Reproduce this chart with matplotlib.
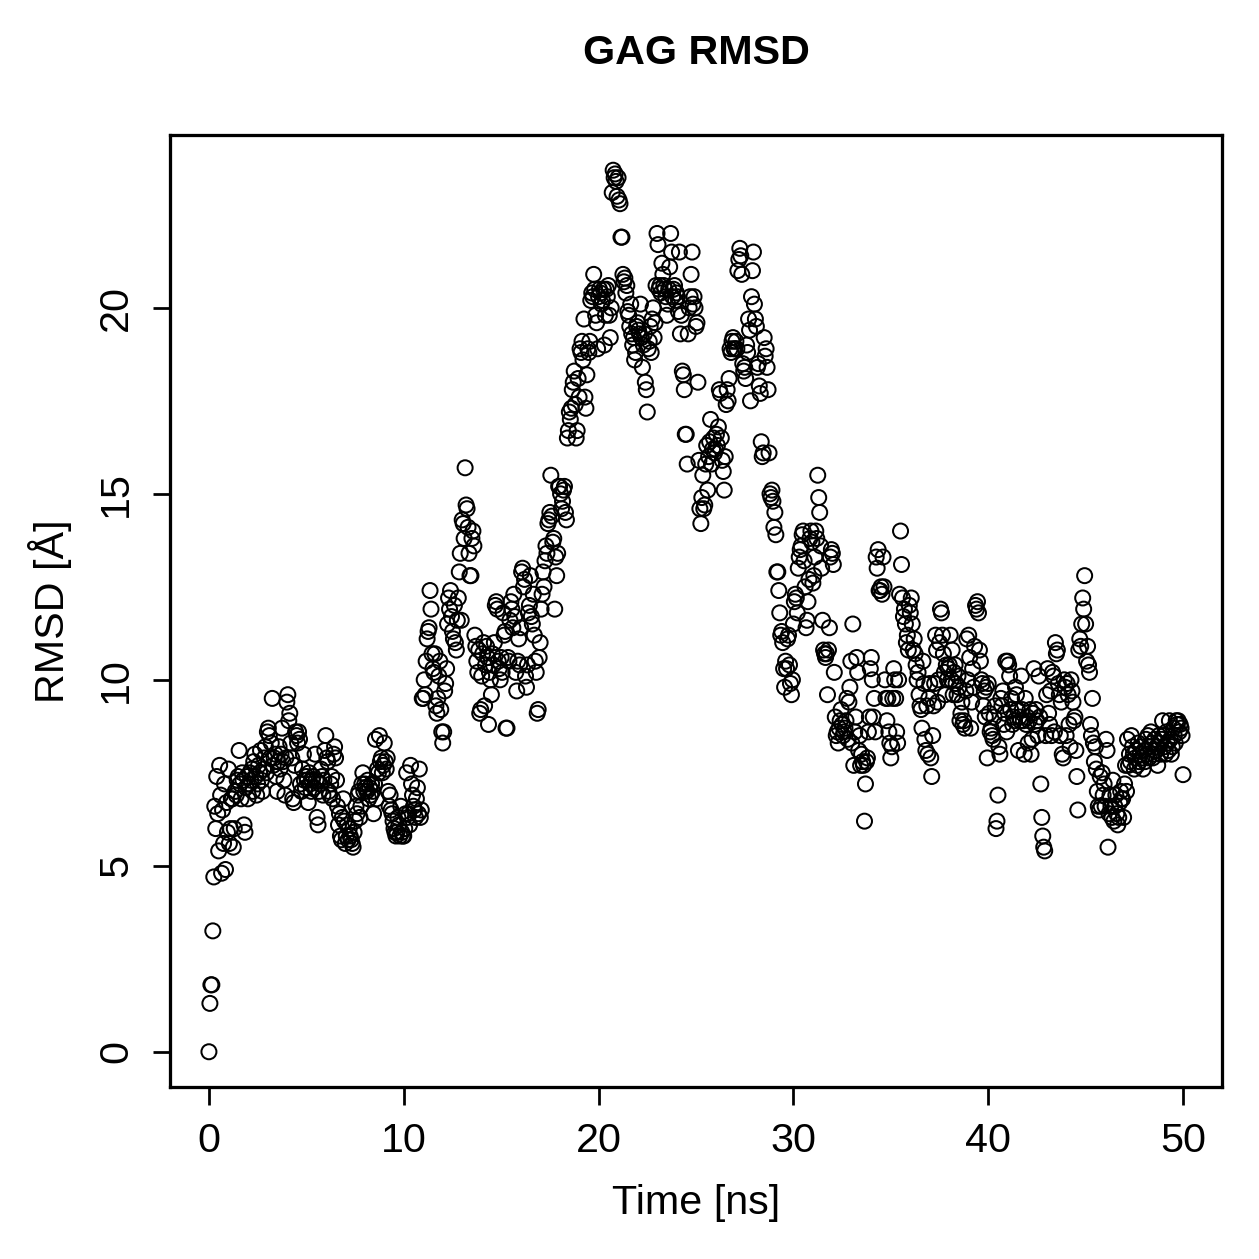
import numpy as np
import matplotlib
matplotlib.use("Agg")
import matplotlib.pyplot as plt

plt.rcParams['font.family'] = ['Liberation Sans', 'DejaVu Sans']

# RMSD values, one frame every 0.05 ns, one row per ns
rmsd = [
    0.0, 1.3, 1.8, 1.8, 3.25, 4.7, 6.6, 6.0, 7.4, 6.4, 5.4, 7.7, 6.9, 4.8, 6.5, 5.6, 7.2, 4.9, 6.7, 5.9,
    7.6, 5.6, 6.0, 6.8, 6.8, 5.5, 6.0, 7.0, 6.9, 7.3, 7.4, 8.1, 7.2, 6.8, 7.5, 7.3, 6.1, 5.9, 7.1, 7.4,
    6.8, 7.2, 7.5, 7.3, 7.6, 7.0, 7.8, 8.0, 7.4, 6.9, 7.2, 7.7, 7.5, 8.1, 7.3, 7.0, 7.6, 7.9, 8.2, 7.5,
    8.6, 8.7, 8.5, 7.9, 8.3, 9.5, 7.7, 7.9, 8.0, 7.4, 7.0, 7.8, 8.2, 7.6, 8.0, 8.7, 7.8, 7.3, 6.9, 7.9,
    9.4, 9.6, 8.9, 9.1, 8.3, 7.9, 6.8, 6.7, 7.7, 8.6, 8.5, 8.3, 8.6, 8.4, 7.2, 7.0, 7.6, 8.0, 7.3, 7.1,
    7.4, 7.3, 6.7, 7.5, 7.2, 7.0, 7.3, 7.4, 7.1, 8.0, 7.3, 6.3, 6.1, 7.0, 7.2, 7.6, 7.4, 6.9, 7.3, 8.1,
    8.5, 7.9, 7.8, 7.0, 6.9, 7.2, 7.4, 6.8, 8.0, 8.2, 7.9, 7.3, 6.6, 6.1, 6.4, 5.8, 5.7, 6.3, 6.8, 6.2,
    5.6, 5.8, 6.1, 5.7, 6.0, 5.8, 5.7, 5.6, 5.5, 5.9, 6.2, 6.6, 6.4, 6.9, 7.0, 6.3, 6.6, 7.2, 7.5, 7.0,
    7.2, 7.1, 7.0, 7.3, 6.8, 7.1, 6.9, 7.2, 7.0, 6.4, 7.2, 8.4, 6.8, 7.6, 7.5, 8.5, 7.8, 7.9, 7.5, 7.7,
    8.3, 7.8, 7.6, 7.9, 7.0, 6.6, 6.9, 6.5, 6.4, 6.2, 6.0, 5.9, 5.8, 5.9, 6.3, 6.1, 5.8, 6.6, 5.9, 5.8,
    5.8, 6.0, 6.4, 7.5, 6.3, 6.4, 6.1, 7.7, 7.2, 6.9, 6.6, 6.5, 6.3, 6.8, 7.1, 6.4, 7.6, 6.3, 6.5, 9.5,
    9.5, 10.0, 9.6, 10.5, 11.1, 11.3, 11.4, 12.4, 11.9, 10.7, 10.3, 10.2, 10.7, 9.3, 9.1, 9.5, 10.1, 10.5, 9.2, 8.6,
    8.3, 8.6, 9.7, 9.9, 10.3, 11.5, 12.2, 11.9, 12.4, 11.7, 11.3, 11.1, 12.0, 11.0, 10.8, 11.6, 12.2, 12.9, 13.4, 11.6,
    14.3, 14.2, 13.8, 15.7, 14.7, 14.6, 14.1, 13.4, 12.8, 12.8, 13.8, 14.0, 13.6, 11.2, 10.9, 10.5, 10.2, 10.8, 9.1, 9.2,
    10.1, 10.7, 11.0, 9.3, 10.4, 10.9, 10.6, 8.8, 10.2, 10.0, 9.6, 10.7, 10.4, 11.0, 12.0, 12.1, 11.9, 10.5, 10.3, 10.0,
    10.6, 10.2, 11.8, 11.2, 11.3, 8.7, 8.7, 10.6, 10.5, 11.6, 12.1, 11.9, 11.4, 12.3, 11.7, 10.2, 9.7, 10.5, 11.1, 10.4,
    11.4, 12.9, 13.0, 12.5, 12.7, 10.1, 9.8, 10.4, 11.8, 12.0, 12.8, 11.7, 11.5, 12.3, 11.2, 10.5, 10.2, 9.1, 9.2, 10.6,
    11.0, 11.9, 12.3, 12.9, 12.5, 13.2, 13.6, 13.4, 14.2, 14.3, 14.5, 15.5, 14.4, 13.7, 13.8, 11.9, 13.3, 12.8, 13.4, 15.2,
    15.2, 15.0, 14.6, 14.8, 15.1, 15.2, 14.5, 14.3, 16.5, 16.7, 17.2, 17.0, 17.3, 17.8, 18.0, 18.3, 17.4, 16.5, 16.7, 18.1,
    17.6, 18.9, 18.8, 19.1, 18.6, 19.7, 17.6, 17.3, 18.2, 18.9, 18.8, 19.1, 20.2, 20.4, 20.3, 20.9, 20.5, 19.8, 19.6, 18.9,
    20.3, 20.5, 20.4, 20.1, 20.2, 20.5, 19.0, 19.8, 20.5, 20.3, 20.6, 19.8, 19.2, 20.0, 23.1, 23.7, 23.5, 23.6, 23.4, 23.0,
    23.5, 22.9, 22.8, 21.9, 21.9, 20.9, 20.7, 20.8, 20.4, 20.6, 19.9, 19.8, 19.5, 20.1, 19.3, 19.0, 19.2, 18.6, 18.8, 19.5,
    19.6, 19.4, 19.3, 20.1, 19.2, 18.4, 19.0, 19.3, 18.0, 17.8, 17.2, 18.9, 19.1, 19.5, 18.8, 19.7, 20.0, 19.2, 19.6, 20.6,
    22.0, 21.7, 20.5, 20.6, 20.4, 21.2, 20.9, 20.6, 20.5, 20.3, 19.8, 20.1, 20.5, 21.1, 22.0, 21.5, 20.3, 20.5, 20.6, 20.2,
    20.4, 20.3, 19.9, 21.5, 19.3, 19.8, 18.3, 18.2, 17.8, 16.6, 16.6, 15.8, 19.3, 20.0, 20.3, 20.9, 21.5, 20.1, 20.3, 20.0,
    19.5, 19.6, 18.0, 15.9, 14.6, 14.2, 14.9, 15.5, 14.6, 14.7, 15.8, 16.3, 15.1, 16.0, 16.4, 17.0, 15.8, 16.2, 16.5, 16.1,
    16.2, 16.6, 16.3, 16.8, 17.8, 17.7, 16.5, 15.9, 15.6, 15.1, 16.0, 17.4, 17.8, 17.5, 18.1, 18.9, 18.8, 19.1, 19.2, 18.9,
    18.9, 19.1, 18.9, 21.0, 21.3, 21.6, 21.4, 20.9, 18.5, 18.3, 18.4, 18.1, 19.0, 18.8, 19.7, 19.4, 17.5, 20.3, 21.0, 21.5,
    20.1, 19.7, 19.5, 18.4, 18.5, 17.9, 17.7, 16.4, 16.0, 16.1, 19.2, 18.7, 18.9, 18.4, 17.8, 16.1, 15.0, 14.9, 15.1, 14.8,
    14.1, 14.5, 13.9, 12.9, 12.9, 12.4, 11.8, 11.2, 11.3, 11.0, 10.3, 9.8, 10.5, 10.3, 11.1, 11.2, 10.4, 9.9, 9.6, 10.0,
    11.5, 12.1, 12.3, 12.2, 11.8, 13.0, 13.3, 13.5, 13.6, 13.9, 14.0, 13.2, 12.5, 11.4, 11.6, 12.1, 12.7, 13.8, 14.0, 13.7,
    12.6, 12.8, 13.3, 14.0, 13.8, 15.5, 14.9, 14.5, 13.6, 13.0, 11.6, 10.8, 10.7, 10.6, 10.7, 9.6, 10.8, 11.4, 13.3, 13.5,
    13.4, 13.1, 10.2, 9.0, 8.5, 8.6, 8.3, 8.7, 8.9, 9.2, 8.8, 8.5, 8.6, 8.7, 8.9, 9.5, 8.4, 9.4, 9.8, 10.5,
    8.3, 11.5, 7.7, 8.6, 9.0, 10.6, 10.2, 8.1, 8.5, 7.7, 8.0, 7.8, 7.7, 6.2, 7.2, 7.8, 7.9, 8.6, 9.0, 10.3,
    10.6, 10.0, 9.0, 9.5, 8.6, 13.3, 13.0, 13.5, 12.4, 12.4, 12.5, 12.3, 13.3, 12.5, 10.0, 9.5, 8.9, 9.5, 8.6, 8.3,
    7.9, 8.2, 9.5, 10.3, 10.0, 9.5, 8.6, 8.3, 10.0, 12.3, 14.0, 13.1, 12.2, 11.7, 11.9, 11.5, 11.0, 11.2, 10.8, 12.0,
    11.8, 12.2, 11.5, 10.8, 11.1, 10.7, 10.4, 10.0, 10.2, 9.6, 9.3, 9.2, 8.7, 10.5, 9.9, 8.4, 8.1, 9.3, 8.0, 9.5,
    9.9, 7.9, 7.4, 8.5, 9.3, 9.9, 11.2, 10.8, 9.4, 10.0, 11.0, 11.9, 11.8, 11.2, 10.7, 10.2, 9.6, 10.4, 10.0, 10.3,
    10.4, 11.2, 10.0, 10.8, 9.6, 10.2, 10.4, 9.9, 9.6, 10.1, 9.8, 8.9, 9.1, 9.4, 8.8, 8.9, 8.7, 9.7, 11.1, 10.0,
    11.2, 10.6, 8.7, 9.4, 10.3, 9.8, 10.9, 12.0, 11.9, 12.1, 11.8, 10.8, 10.5, 10.0, 9.9, 9.3, 9.7, 9.0, 9.8, 7.9,
    9.9, 9.1, 8.6, 8.7, 8.5, 8.4, 9.0, 9.3, 6.0, 6.2, 6.9, 8.2, 8.0, 9.5, 9.3, 9.7, 8.8, 9.1, 10.5, 8.6,
    10.5, 10.4, 10.1, 9.2, 9.5, 8.8, 9.0, 8.9, 9.8, 9.6, 9.2, 8.1, 9.0, 8.9, 10.1, 9.2, 8.9, 8.0, 9.5, 8.8,
    9.0, 8.3, 8.9, 9.2, 8.0, 8.4, 9.1, 10.3, 8.8, 9.2, 8.9, 8.5, 10.1, 9.0, 7.2, 6.3, 5.8, 5.5, 5.4, 8.5,
    9.6, 10.3, 9.1, 8.8, 9.7, 8.5, 10.2, 10.1, 8.6, 11.0, 10.7, 10.8, 9.9, 9.6, 8.5, 9.4, 8.0, 7.9, 10.0, 9.8,
    8.5, 9.9, 9.6, 8.8, 8.2, 10.0, 9.7, 9.4, 8.9, 9.0, 8.1, 7.4, 6.5, 10.8, 11.1, 10.9, 11.5, 12.2, 11.9, 12.8,
    11.5, 10.5, 10.9, 10.4, 10.2, 8.8, 8.5, 9.5, 8.3, 7.8, 8.2, 7.6, 7.0, 6.6, 6.5, 7.4, 6.6, 7.5, 6.9, 7.2,
    6.6, 8.4, 8.1, 5.5, 6.4, 6.9, 6.6, 6.3, 7.3, 6.2, 6.6, 6.9, 6.4, 6.1, 6.3, 6.7, 7.0, 6.8, 6.8, 6.3,
    7.2, 7.7, 7.0, 8.4, 7.7, 8.0, 7.8, 8.5, 8.2, 8.0, 7.6, 7.9, 8.1, 7.7, 8.3, 7.8, 8.0, 8.2, 7.9, 7.6,
    8.1, 7.8, 8.4, 8.0, 8.5, 7.9, 8.2, 8.6, 8.3, 7.9, 8.0, 8.4, 8.1, 8.2, 7.7, 8.5, 8.3, 8.0, 8.4, 8.9,
    8.5, 8.2, 8.0, 8.6, 8.3, 8.1, 8.9, 8.4, 8.0, 8.2, 8.7, 8.5, 8.3, 8.9, 8.8, 8.9, 8.6, 8.8, 8.7, 8.5,
    7.45,
]
# frames are saved every 50 ps
time_ns = np.linspace(0, 50, len(rmsd))

x_ticks = [0, 10, 20, 30, 40, 50]
y_ticks = [0, 5, 10, 15, 20]

fig = plt.figure(figsize=(1259 / 180, 1259 / 180), dpi=180)
ax = fig.add_axes([0.135, 0.1366, 0.8356, 0.7562])

ax.scatter(time_ns, rmsd, s=36, facecolors='none', edgecolors='black', linewidths=0.8)

# R-style 4% padding around the data range
lo, hi = min(rmsd), max(rmsd)
ax.set_ylim(lo - 0.04 * (hi - lo), hi + 0.04 * (hi - lo))
ax.set_xlim(-2, 52)

ax.set_xticks(x_ticks)
ax.set_yticks(y_ticks)
ax.set_yticklabels([str(v) for v in y_ticks], rotation=90, va='center')
ax.tick_params(direction='out', length=7, width=1.1, labelsize=16.5, pad=7)
for sp in ax.spines.values():
    sp.set_linewidth(1.3)

ax.set_xlabel("Time [ns]", fontsize=16.5, va='center')
ax.xaxis.set_label_coords(0.5, -0.1218)
ax.set_ylabel("RMSD [Å]", fontsize=16.5, va='center')
ax.yaxis.set_label_coords(-0.114, 0.5)
ax.set_title("GAG RMSD", fontsize=16.5, fontweight='bold', y=1.07, va='center')

fig.savefig("out.png", dpi=180)
